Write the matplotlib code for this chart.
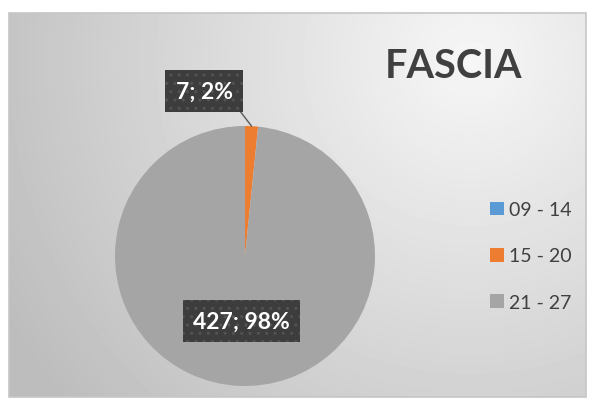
import numpy as np
import matplotlib
matplotlib.use("Agg")
import matplotlib.pyplot as plt
from matplotlib.patches import Rectangle

# data
categories = ["09 - 14", "15 - 20", "21 - 27"]
counts = [0, 7, 427]
colors = ["#5b9bd5", "#ed7d31", "#a5a5a5"]
title = "FASCIA"

plt.rcParams["font.family"] = ["Lato", "DejaVu Sans"]

W, H = 595, 410
fig = plt.figure(figsize=(W / 100, H / 100), dpi=100)
fig.patch.set_facecolor("white")

# chart area background: radial gradient, light near the title
bx0, by0, bx1, by1 = 9, 14, 586, 398
bg = fig.add_axes([bx0 / W, 1 - by1 / H, (bx1 - bx0) / W, (by1 - by0) / H])
yy, xx = np.mgrid[by0:by1, bx0:bx1]
d = np.hypot(xx - 470, yy - 60) / 520.0
shade = np.clip(0.965 - 0.22 * d, 0.74, 1.0)
bg.imshow(shade, cmap="gray", vmin=0, vmax=1, aspect="auto",
          extent=[0, 1, 0, 1], interpolation="bilinear")
bg.set_axis_off()
fig.patches.append(Rectangle((bx0 / W, 1 - by1 / H), (bx1 - bx0) / W, (by1 - by0) / H,
                             transform=fig.transFigure, fill=False,
                             edgecolor="#c6c6c6", linewidth=1.2))

# pie axes: centre at (245, 257) px, radius 130 px
cx, cy, r = 245, 257, 130
lim = 1.5
side = 2 * r * lim
ax = fig.add_axes([(cx - side / 2) / W, (H - cy - side / 2) / H, side / W, side / H])
wedges, _ = ax.pie(counts, colors=colors, startangle=90, counterclock=False,
                   radius=1, wedgeprops=dict(linewidth=0))
ax.set_xlim(-lim, lim)
ax.set_ylim(-lim, lim)
ax.set_aspect("equal")
ax.set_axis_off()

total = sum(counts)
box = dict(boxstyle="square,pad=0.45", facecolor="#3d3d3d", edgecolor="#535353",
           linewidth=0, hatch="..")

# 15 - 20 label (outside with leader line)
start = 90 - 360 * counts[0] / total
mid = np.deg2rad(start - 360 * counts[1] / total / 2)
ax.annotate(f"{counts[1]}; {round(100 * counts[1] / total)}%",
            xy=(np.cos(mid), np.sin(mid)), xytext=(-0.315, 1.27),
            ha="center", va="center", fontsize=16.5, fontweight="bold", color="white",
            bbox=box,
            arrowprops=dict(arrowstyle="-", color="#595959", linewidth=1,
                            relpos=(1, 0), shrinkA=0, shrinkB=0))

# 21 - 27 label (inside)
start2 = start - 360 * (counts[0] + counts[1]) / total
mid2 = np.deg2rad(start2 - 360 * counts[2] / total / 2)
ax.text(0.5 * np.cos(mid2), 0.5 * np.sin(mid2),
        f"{counts[2]}; {round(100 * counts[2] / total)}%",
        ha="center", va="center", fontsize=16.5, fontweight="bold", color="white",
        bbox=box)

fig.text(453 / W, 1 - 67 / H, title, ha="center", va="center",
         fontsize=28.5, fontweight="bold", color="#404040")

fig.legend(wedges, categories, loc="center left",
           bbox_to_anchor=(490 / W, 1 - 257 / H), frameon=False,
           fontsize=14, handlelength=0.7, handleheight=0.7,
           handletextpad=0.3, labelspacing=1.5, borderpad=0, borderaxespad=0,
           labelcolor="#404040")

fig.savefig("out.png", dpi=100)
